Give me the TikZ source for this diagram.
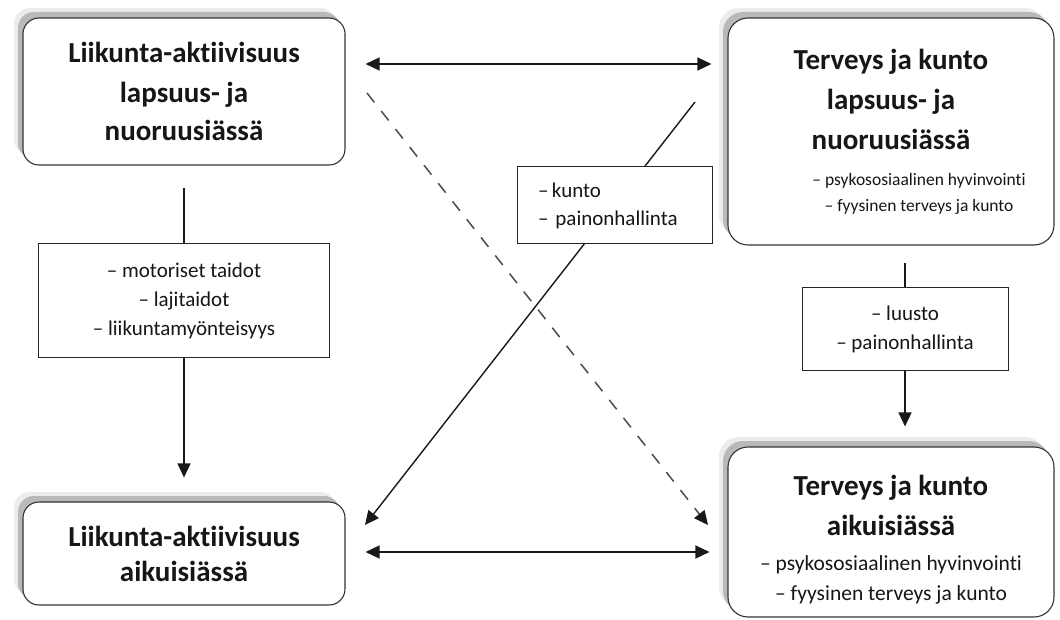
\documentclass[tikz,border=0pt]{standalone}
\usepackage{fontspec}
\setmainfont{Carlito}[Ligatures={NoCommon}]
\usetikzlibrary{arrows.meta,shadows}
\definecolor{txt}{HTML}{161616}
\newcommand{\smf}{\fontsize{17.5}{28}\selectfont\mdseries}
\newcommand{\mdf}{\fontsize{21.5}{28}\selectfont\mdseries}
\begin{document}
\begin{tikzpicture}[x=1pt,y=-1pt,
  bigbox/.style={draw=black!80, line width=1.1pt, rounded corners=16pt, fill=white,
    general shadow={fill=gray!15, shadow xshift=-9pt, shadow yshift=10pt},
    general shadow={fill=gray!55, shadow xshift=-5pt, shadow yshift=6pt},
    align=center, font=\fontsize{29}{40}\selectfont\bfseries, text=txt, inner sep=0pt},
  lbl/.style={draw=black!85, line width=1pt, fill=white, inner sep=0pt,
    font=\fontsize{21}{29}\selectfont, text=txt, align=center},
  conn/.style={draw=black!90, line width=1.4pt},
  tip/.style={-{Triangle[length=14pt,width=13pt]}},
  tips/.style={{Triangle[length=14pt,width=13pt]}-{Triangle[length=14pt,width=13pt]}},
  dashconn/.style={draw=black!70, line width=1.5pt, dash pattern=on 12pt off 11pt,
    -{Triangle[length=14pt,width=13pt,color=black!90]}}
]
\useasboundingbox (0,0) rectangle (1060,620);
\fill[white] (0,0) rectangle (1060,620);

\node[bigbox, minimum width=322pt, minimum height=147pt] (A) at (184,91.5)
  {Liikunta-aktiivisuus\\ lapsuus- ja\\[-2pt] nuoruusiässä};
\node[bigbox, minimum width=326pt, minimum height=227pt, rounded corners=20pt] (B) at (891,131.5)
  {Terveys ja kunto\\ lapsuus- ja\\ nuoruusiässä\\[-4pt] {\smf\hspace*{56pt}– psykososiaalinen hyvinvointi}\\[-14pt] {\smf\hspace*{56pt}– fyysinen terveys ja kunto}};
\node[bigbox, minimum width=322pt, minimum height=103pt] (C) at (184,553.5)
  {Liikunta-aktiivisuus\\[-5pt] aikuisiässä};
\node[bigbox, minimum width=326pt, minimum height=170pt, rounded corners=20pt] (D) at (891,532)
  {\rule{0pt}{36pt}Terveys ja kunto\\ aikuisiässä\\[-5pt] {\mdf – psykososiaalinen hyvinvointi}\\[-10pt] {\mdf – fyysinen terveys ja kunto}};

\coordinate (s1) at (695,102);
\coordinate (s2) at (365,525);
\coordinate (d1) at (367,93);
\coordinate (d2) at (708,525);
\draw[conn, tip] (s1) -- (s2);
\draw[dashconn] (d1) -- (d2);

\node[lbl, minimum width=291pt, minimum height=113pt] (L1) at (184,300.5)
  {– motoriset taidot\\ – lajitaidot\\ – liikuntamyönteisyys};
\node[lbl, minimum height=77pt, align=left, text width=153pt, inner xsep=21pt] (L2) at (614.5,205.5)
  {–\,kunto\\[-1pt] – painonhallinta};
\node[lbl, minimum width=206pt, minimum height=82pt] (L3) at (905,329)
  {– luusto\\ – painonhallinta};

\draw[conn, shorten <=22pt] (A.south) -- (L1.north);
\draw[conn, tip, shorten >=24pt] (L1.south) -- (C.north);
\draw[conn, shorten <=17pt] (B.south -| L3.north) -- (L3.north);
\draw[conn, tip, shorten >=20pt] (L3.south) -- (L3.south |- D.north);
\draw[conn, tips, shorten <=20pt, shorten >=16pt] ([yshift=27.5pt]A.east) -- ([yshift=67.5pt]B.west);
\draw[conn, tips, shorten <=20pt, shorten >=18pt] ([yshift=1.5pt]C.east) -- ([yshift=-20pt]D.west);
\end{tikzpicture}
\end{document}
